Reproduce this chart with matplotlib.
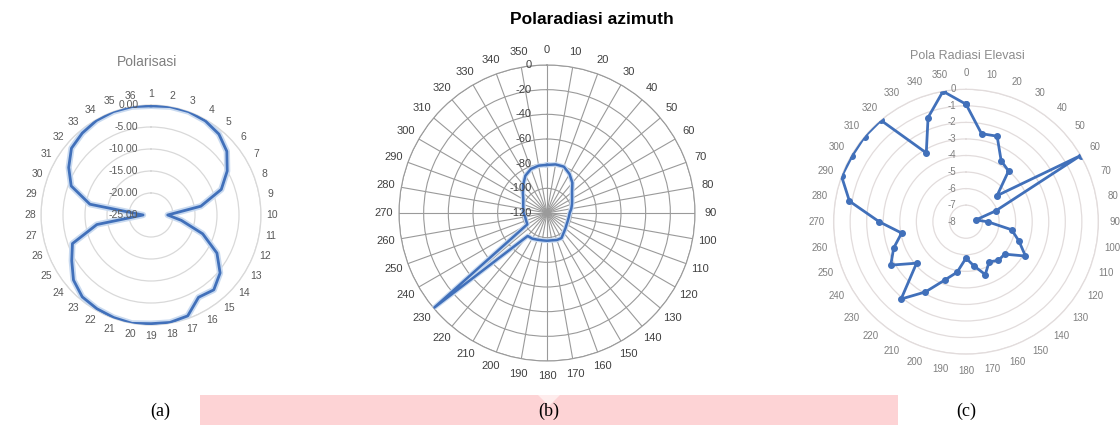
import matplotlib
matplotlib.use('Agg')
import matplotlib.pyplot as plt
import numpy as np
from matplotlib.transforms import offset_copy
from matplotlib.patches import Rectangle, Polygon

W, H = 1120, 425

# ---------------- data ----------------
pol_categories = [str(i) for i in range(1, 37)]
pol_values = [-0.2, 0.0, 0.0, -0.3, -1.0, -2.5, -5.0, -8.0, -13.5, -21.2,
              -18.0, -12.5, -7.7, -4.5, -2.8, -3.4, -0.6, -0.2, -0.3, 0.0,
              -0.2, -0.4, -0.7, -2.0, -4.2, -6.0, -12.5, -23.2, -10.9, -5.7,
              -3.4, -1.4, -0.7, -0.2, 0.0, 0.0]
pol_rticks = [-25, -20, -15, -10, -5, 0]
pol_rlabels = ['-25.00', '-20.00', '-15.00', '-10.00', '-5.00', '0.00']

azi_categories = [str(a) for a in range(0, 360, 10)]
azi_values = [-81, -80, -80, -83.5, -88, -93.5, -96.5, -98.4, -100, -101.6,
              -102, -102, -101.6, -100.5, -99, -96.5, -96.7, -97.5, -97.5, -97.5,
              -97, -96, -95.7, 0, -101.6, -102, -102, -101, -100.5, -99.5,
              -97.8, -94.5, -90, -85, -82, -81]
azi_rticks = [-120, -100, -80, -60, -40, -20, 0]
azi_rlabels = ['-120', '-100', '-80', '-60', '-40', '-20', '0']

ele_categories = [str(a) for a in range(0, 360, 10)]
ele_values = [-0.9, -2.6, -2.5, -3.75, -4.0, -5.55, 0.0, -6.1, -7.4, -6.7,
              -5.2, -4.6, -3.85, -4.95, -4.95, -5.2, -4.6, -5.3, -5.8, -4.9,
              -4.25, -3.1, -1.9, -4.1, -2.75, -3.35, -4.05, -2.75, -0.85, 0.0,
              -0.05, 0.0, 0.0, -3.2, -1.3, 0.0]
ele_rticks = [-8, -7, -6, -5, -4, -3, -2, -1, 0]
ele_rlabels = ['-8', '-7', '-6', '-5', '-4', '-3', '-2', '-1', '0']

LINE = '#4170BA'
HALO = '#C9DAF0'

fig = plt.figure(figsize=(W / 100, H / 100), dpi=100)
fig.patch.set_facecolor('white')


def make_polar(cx, cy, R):
    ax = fig.add_axes([(cx - R) / W, 1 - (cy + R) / H, 2 * R / W, 2 * R / H],
                      projection='polar')
    ax.set_theta_zero_location('N')
    ax.set_theta_direction(-1)
    ax.set_facecolor('none')
    return ax


def setup(ax, cats, rticks, rlabels, pad, cat_fs, cat_color, r_fs, r_color,
          r_off, ring_color, ring_lw, spokes, spoke_color=None):
    n = len(cats)
    ax.set_ylim(rticks[0], rticks[-1])
    ax.set_yticks(rticks)
    ax.set_yticklabels([])
    ax.yaxis.grid(True, color=ring_color, lw=ring_lw)
    ax.set_thetagrids(np.arange(n) * 360.0 / n, labels=cats,
                      fontsize=cat_fs, color=cat_color, family='Liberation Sans')
    ax.tick_params(axis='x', pad=pad, length=0)
    ax.tick_params(axis='y', length=0)
    if spokes:
        ax.xaxis.grid(True, color=spoke_color, lw=ring_lw)
    else:
        ax.xaxis.grid(False)
    ax.spines['polar'].set_edgecolor(ring_color)
    ax.spines['polar'].set_linewidth(ring_lw)
    tr = offset_copy(ax.transData, fig=fig, x=-r_off, y=0, units='points')
    for v, lab in zip(rticks, rlabels):
        ax.text(0, v, lab, transform=tr, ha='right', va='center',
                fontsize=r_fs, color=r_color, family='Liberation Sans', zorder=5)


def closed(vals):
    n = len(vals)
    th = np.deg2rad(np.arange(n + 1) * 360.0 / n)
    return th, list(vals) + [vals[0]]


# ---------------- (a) Polarisasi ----------------
axa = make_polar(151, 215, 110)
setup(axa, pol_categories, pol_rticks, pol_rlabels, 1, 7.5, '#595959', 7.5,
      '#595959', 9, '#d9d9d9', 0.9, False)
th, vv = closed(pol_values)
axa.plot(th, vv, color=HALO, lw=4.5, solid_joinstyle='round', zorder=3)
axa.plot(th, vv, color=LINE, lw=2.0, solid_joinstyle='round', zorder=4)
fig.text(147 / W, 1 - 62 / H, 'Polarisasi', ha='center', va='center',
         fontsize=10, color='#7f7f7f', family='Liberation Sans')

# ---------------- (b) Polaradiasi azimuth ----------------
axb = make_polar(547, 213, 148)
setup(axb, azi_categories, azi_rticks, azi_rlabels, 4, 8, '#404040', 8,
      '#404040', 11, '#9a9a9a', 0.8, True, '#9a9a9a')
th, vv = closed(azi_values)
axb.plot(th, vv, color=HALO, lw=3.5, solid_joinstyle='round', zorder=3)
axb.plot(th, vv, color=LINE, lw=1.8, solid_joinstyle='round', zorder=4)
fig.text(592 / W, 1 - 20 / H, 'Polaradiasi azimuth', ha='center', va='center',
         fontsize=12.5, fontweight='bold', color='#000000', family='Liberation Sans')

# ---------------- (c) Pola Radiasi Elevasi ----------------
axc = make_polar(966, 221.7, 132.4)
setup(axc, ele_categories, ele_rticks, ele_rlabels, 5, 7, '#7f7f7f', 7,
      '#7f7f7f', 7, '#e2dcdc', 0.9, False)
th, vv = closed(ele_values)
axc.plot(th, vv, color=LINE, lw=2.0, marker='o', ms=4, solid_joinstyle='round',
         zorder=4)
fig.text(967 / W, 1 - 56 / H, 'Pola Radiasi Elevasi', ha='center', va='center',
         fontsize=9, color='#8c8c8c', family='Liberation Sans')

# ---------------- bottom band and sub-captions ----------------
fig.patches.append(Rectangle((200 / W, 0), 698 / W, 30 / H, transform=fig.transFigure,
                             facecolor='#FDD3D5', edgecolor='none', zorder=0))
fig.patches.append(Polygon([(538 / W, 30 / H), (560 / W, 30 / H), (549 / W, 19 / H)],
                           closed=True, transform=fig.transFigure,
                           facecolor='#FEECEC', edgecolor='none', zorder=0))
for x, lab in [(160, '(a)'), (549, '(b)'), (966, '(c)')]:
    fig.text(x / W, 1 - 411 / H, lab, ha='center', va='center', fontsize=13,
             family='Liberation Serif', color='#000000')

fig.savefig('out.png', dpi=100)
